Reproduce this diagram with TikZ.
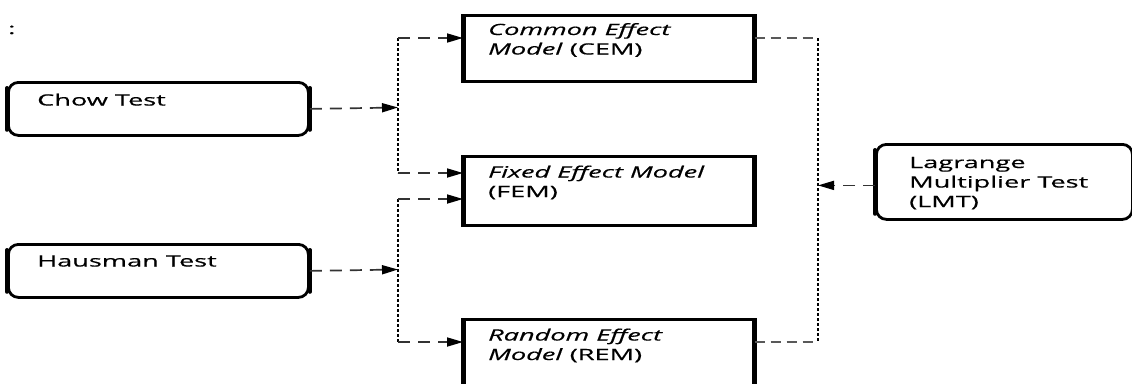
\documentclass[tikz,border=0pt]{standalone}
\usepackage{fontspec}
\setmainfont{Open Sans}[FakeStretch=1.75,FakeBold=0.5]
\usetikzlibrary{arrows.meta,calc}
\begin{document}
\begin{tikzpicture}[x=1pt,y=-1pt,
  font=\fontsize{15.5}{19.5}\selectfont,
  rbox/.style={draw, line width=2.8pt, rounded corners=10pt, minimum width=300pt, minimum height=53pt, inner sep=0pt, anchor=north west},
  mbox/.style={draw, line width=2.5pt, minimum width=289pt, inner sep=0pt, anchor=north west},
  txt/.style={anchor=base west, inner sep=0pt, align=left},
  dline/.style={draw=black!80, line width=1.7pt, dash pattern=on 12pt off 8pt},
  tip/.style={-{Triangle[length=16pt,width=9pt,color=black,fill=black]}},
  dotl/.style={draw=black, line width=1.6pt, dash pattern=on 3pt off 2pt},
  gline/.style={draw=black!65, line width=1.3pt, dash pattern=on 10pt off 6pt}]
\useasboundingbox (0,0) rectangle (1132,383);
\clip (0,0) rectangle (1132,383);
\fill[white] (0,0) rectangle (1132,383);

\node[txt] (colon) at (8,34) {:};

% boxes
\node[rbox] (chow) at (7,81) {};
\node[rbox] (haus) at (7,243) {};
\node[mbox, minimum height=66pt] (cem) at (463,14) {};
\node[mbox, minimum height=69pt] (fem) at (463,155) {};
\node[mbox, minimum height=75pt] (rem) at (463,318) {};
\node[rbox, minimum width=256pt, minimum height=75pt] (lmt) at (875,143) {};

% thicker vertical sides
\foreach \n in {cem,fem,rem}{
  \draw[line width=5pt] (\n.north west) -- (\n.south west) (\n.north east) -- (\n.south east);
}
\foreach \n in {chow,haus,lmt}{
  \draw[line width=4pt, line cap=round] ([yshift=-7pt]\n.north west) -- ([yshift=7pt]\n.south west)
                        ([yshift=-7pt]\n.north east) -- ([yshift=7pt]\n.south east);
}

% texts (anchor base = baseline of the last line)
\node[txt] (chowt) at (37,105.5) {Chow Test};
\node[txt] (haust) at (37,266.5) {Hausman Test};
\node[txt] (cemt) at (488,54.5) {\textit{Common Effect}\\\textit{Model} (CEM)};
\node[txt] (femt) at (488,197) {\textit{Fixed Effect Model}\\(FEM)};
\node[txt] (remt) at (488,360) {\textit{Random Effect}\\\textit{Model} (REM)};
\node[txt] (lmtt) at (909,207) {Lagrange\\Multiplier Test\\(LMT)};

% junction coordinates
\coordinate (j1) at (398,107.5);
\coordinate (c1) at (398,38);
\coordinate (c2) at (398,173);
\coordinate (j2) at (398,269.5);
\coordinate (c3) at (398,199);
\coordinate (c4) at (398,342);
\coordinate (r1) at (818,38);
\coordinate (r2) at (818,342);

% left connectors
\draw[dline, tip] (chow.east) -- (j1);
\draw[dotl] (c1) -- (c2);
\draw[dline, tip] (c1) -- (c1 -| cem.west);
\draw[dline, tip] (c2) -- (c2 -| fem.west);
\draw[dline, tip] (haus.east) -- (j2);
\draw[dotl] (c3) -- (c4);
\draw[dline, tip] (c3) -- (c3 -| fem.west);
\draw[dline, tip] (c4) -- (c4 -| rem.west);

% right connectors
\draw[gline] (r1 -| cem.east) -- (r1);
\draw[dotl] (r1) -- (r2);
\draw[gline] (r2 -| rem.east) -- (r2);
\draw[dline, tip] ([yshift=-3.5pt]lmt.west) -- ([yshift=-3.5pt]lmt.west -| r1);
\end{tikzpicture}
\end{document}
